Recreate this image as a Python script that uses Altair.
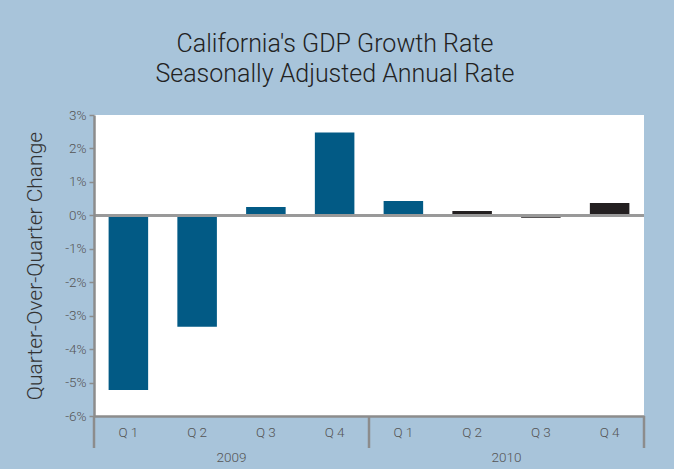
import altair as alt
import pandas as pd

# ---- data ----
years = ["2009", "2009", "2009", "2009", "2010", "2010", "2010", "2010"]
quarters = ["Q 1", "Q 2", "Q 3", "Q 4", "Q 1", "Q 2", "Q 3", "Q 4"]
growth = [-5.22, -3.33, 0.25, 2.48, 0.43, 0.13, -0.07, 0.37]
status = ["revised", "revised", "revised", "revised", "revised", "advance", "advance", "advance"]
y_ticks = [-6, -5, -4, -3, -2, -1, 0, 1, 2, 3]

BG = "#a8c4da"
BLUE = "#025a85"
DARK = "#231f20"
AXIS = "#8c8c8c"
FONT = "Roboto"
LBL = 13.5

keys = [f"{y}|{q}" for y, q in zip(years, quarters)]
df = pd.DataFrame({"key": keys, "year": years, "quarter": quarters,
                   "growth": growth, "status": status})

W, H = 550, 301

x_scale = alt.Scale(domain=keys, paddingInner=0, paddingOuter=0)
y_scale = alt.Scale(domain=[-6, 3], nice=False, zero=False)
y_axis = alt.Axis(values=y_ticks, tickCount=10, labelExpr="datum.value + '%'",
                  labelOverlap=False, labelBound=False, labelFlush=False,
                  title="Quarter-Over-Quarter Change", titleFontSize=21,
                  titleFont=FONT, titleFontWeight=300, titleColor="#333333",
                  titlePadding=19, labelFontSize=LBL, labelColor="#555555",
                  labelFont=FONT, labelFontWeight=300, labelPadding=3,
                  tickSize=5, tickColor=AXIS,
                  tickWidth=1.5, domainColor=AXIS, domainWidth=2.5, grid=False,
                  zindex=1)

bars = alt.Chart(df).mark_bar(width={"band": 0.575}).encode(
    x=alt.X("key:N", scale=x_scale, sort=keys,
            axis=alt.Axis(title=None, labelExpr="split(datum.value, '|')[1]",
                          ticks=False, labelAngle=0, labelPadding=9,
                          labelFontSize=LBL, labelColor="#555555", labelFont=FONT,
                          labelFontWeight=300,
                          domainColor=AXIS, domainWidth=2.5, zindex=1)),
    y=alt.Y("growth:Q", scale=y_scale, axis=y_axis),
    color=alt.Color("status:N", scale=alt.Scale(domain=["revised", "advance"],
                                                range=[BLUE, DARK]), legend=None),
)

zero = alt.Chart(df).mark_rule(color="#999999", size=2.5).encode(
    y=alt.YDatum(0, scale=y_scale, axis=y_axis))

# separators below the axis at the year boundaries
sep_df = pd.DataFrame({"key": [keys[0], keys[4]]})
sep_start = alt.Chart(sep_df).mark_rule(color=AXIS, size=2.5).encode(
    x=alt.X("key:N", scale=x_scale, bandPosition=0),
    y=alt.value(H), y2=alt.value(H + 32))
sep_end = alt.Chart(pd.DataFrame({"key": [keys[7]]})).mark_rule(color=AXIS, size=2.5).encode(
    x=alt.X("key:N", scale=x_scale, bandPosition=1),
    y=alt.value(H), y2=alt.value(H + 32))

# year labels centred under each group of quarters
yr_df = pd.DataFrame({"key": [keys[2], keys[6]], "year": ["2009", "2010"]})
year_text = alt.Chart(yr_df).mark_text(fontSize=LBL, color="#555555", font=FONT,
                                       fontWeight=300, baseline="middle").encode(
    x=alt.X("key:N", scale=x_scale, bandPosition=0),
    y=alt.value(H + 42), text="year:N")

chart = alt.layer(bars, zero, sep_start, sep_end, year_text).properties(
    width=W, height=H,
    title=alt.Title(["California's GDP Growth Rate", "Seasonally Adjusted Annual Rate"],
                    fontSize=25, font=FONT, fontWeight=300, color="#222222",
                    anchor="middle", frame="bounds", lineHeight=30, offset=21),
    background=BG,
    padding={"left": 24, "top": 32, "right": 28, "bottom": 4},
).configure_view(fill="white", stroke=None)

chart.save("out.html", embed_options={"renderer": "svg", "actions": False})
